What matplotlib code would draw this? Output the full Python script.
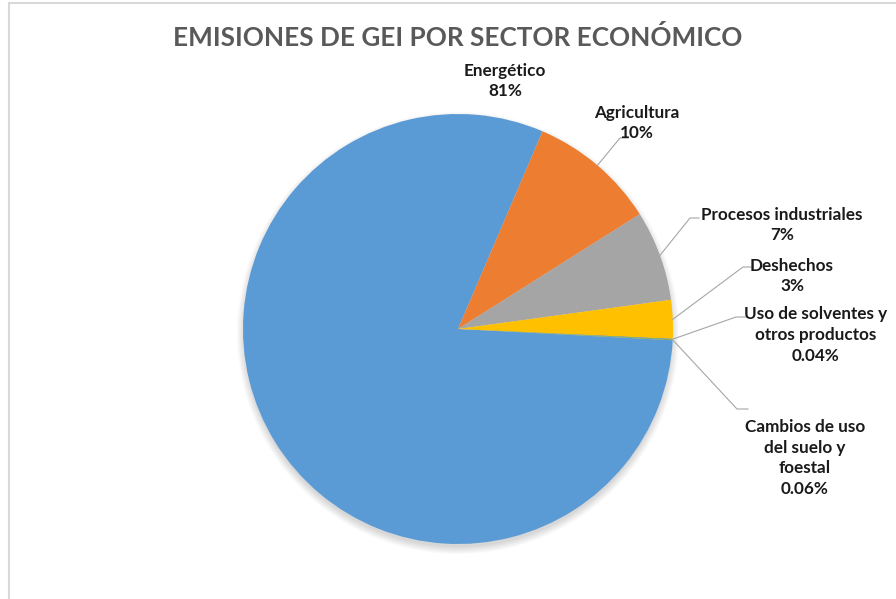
import numpy as np
import matplotlib
matplotlib.use("Agg")
import matplotlib.pyplot as plt
from matplotlib.patches import Circle, Rectangle

plt.rcParams["font.family"] = ["Lato", "DejaVu Sans"]

sectors = ["Energético", "Agricultura", "Procesos industriales", "Deshechos",
           "Uso de solventes y\notros productos", "Cambios de uso\ndel suelo y\nfoestal"]
shares = [80.6, 9.6, 6.8, 2.9, 0.04, 0.06]
colors = ["#5B9BD5", "#ED7D31", "#A5A5A5", "#FFC000", "#4472C4", "#70AD47"]

# layout in pixels (figure 896 x 599, y measured from top)
W, H = 896, 599
cx, cy, r = 458, 329, 215
label_pos = [(505, 81), (637, 123), (782, 225), (792, 276), (816, 335), (805, 458)]
elbows = [None, (620, 138), (690, 218), (743, 267), (736, 317), (737, 409)]
elbow_ends = [None, 628, 699, 751, 748, 748]


def fmt(v):
    return f"{v:.0f}%" if v >= 1 else f"{v:.2f}%"


fig = plt.figure(figsize=(W / 100, H / 100), dpi=100)
ax = fig.add_axes([0, 0, 1, 1])

# frame
fig.patches.append(Rectangle((9 / W, -0.05), 1.1, 1 - 3 / H + 0.05, transform=fig.transFigure,
                             fill=False, edgecolor="#D9D9D9", lw=1.5))

# soft shadow
for k in range(8):
    ax.add_patch(Circle((cx, H - cy - 4), r + 6 - k, color="black", alpha=0.018, lw=0, zorder=1))

start = -3.0
wedges, _ = ax.pie(shares, colors=colors, startangle=start, counterclock=False,
                   center=(cx, H - cy), radius=r, frame=True,
                   wedgeprops=dict(linewidth=0, zorder=2))
ax.set_xlim(0, W)
ax.set_ylim(0, H)
ax.set_aspect("equal")
ax.axis("off")

for i, (w, name, v) in enumerate(zip(wedges, sectors, shares)):
    tx, ty = label_pos[i]
    ax.text(tx, H - ty, f"{name}\n{fmt(v)}", ha="center", va="center", fontsize=12.3,
            fontweight="bold", color="#1a1a1a", linespacing=1.38, zorder=5)
    if elbows[i] is None:
        continue
    mid = np.deg2rad((w.theta1 + w.theta2) / 2)
    sx, sy = cx + r * np.cos(mid), H - cy + r * np.sin(mid)
    ex, ey = elbows[i]
    ax.plot([sx, ex, elbow_ends[i]], [sy, H - ey, H - ey], color="#A6A6A6", lw=0.8, zorder=4)

ax.text(458, H - 37, "EMISIONES DE GEI POR SECTOR ECONÓMICO", ha="center", va="center",
        fontsize=18.8, fontweight="bold", color="#595959")

fig.savefig("out.png", dpi=100)
